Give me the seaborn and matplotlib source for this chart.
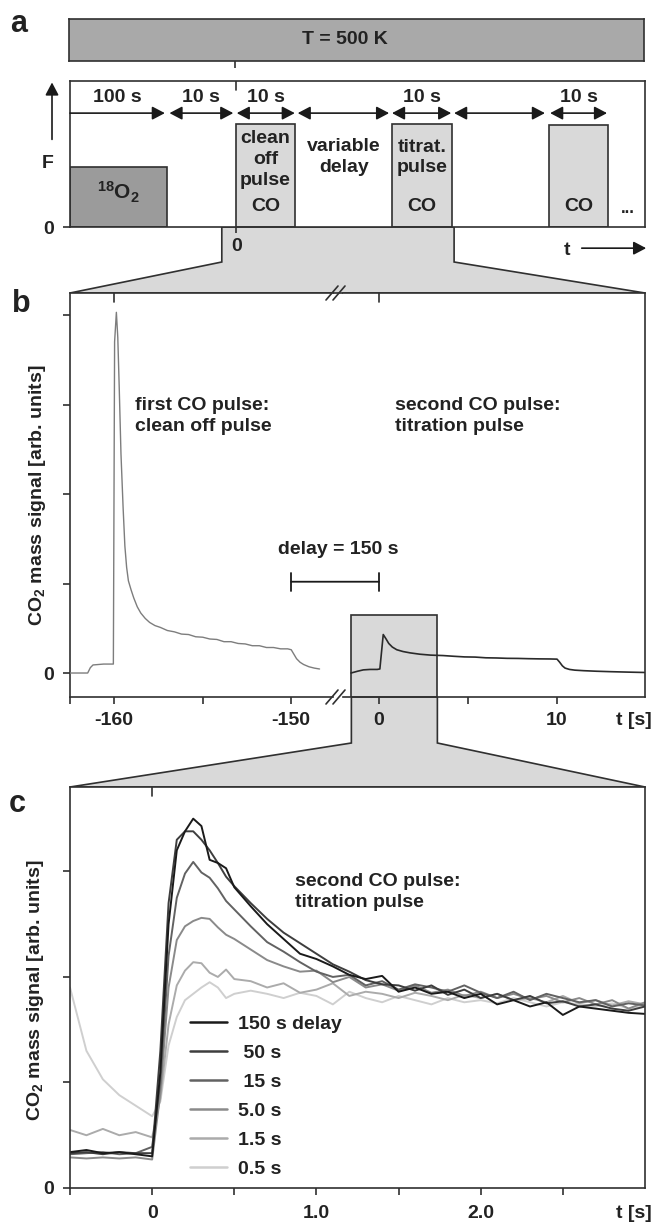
import matplotlib
matplotlib.use("Agg")
import matplotlib.pyplot as plt
import pandas as pd
import seaborn as sns
from matplotlib.patches import Polygon, Rectangle, ConnectionPatch

# ---------------- DATA ----------------
# panel a : schematic pulse sequence (schematic time units)
pulse_start = [0.0, 28.9, 56.0, 83.3]
pulse_width = [16.8, 10.2, 10.4, 10.3]
pulse_height = [0.41, 0.705, 0.705, 0.70]
pulse_color = ["#9b9b9b", "#d9d9d9", "#d9d9d9", "#d9d9d9"]
seg_start = [0.0, 17.3, 29.0, 39.6, 56.0, 66.8, 83.5]
seg_end = [16.5, 28.4, 39.1, 55.5, 66.3, 82.6, 93.4]
seg_labels = ["100 s", "10 s", "10 s", "", "10 s", "", "10 s"]
zoom_a = [26.4, 66.8]

# panel b : CO2 signal of clean-off pulse and titration pulse
first_t = [-162.5, -161.5, -161.35, -161.2, -160.6, -160.05, -159.98, -159.88, -159.8,
           -159.72, -159.62, -159.5, -159.4, -159.3, -159.2, -159.05, -158.9, -158.7,
           -158.5, -158.25, -158.0, -157.7, -157.4, -157.0, -156.6, -156.2, -155.8,
           -155.4, -155.0, -154.6, -154.2, -153.8, -153.4, -153.0, -152.6, -152.2,
           -151.8, -151.4, -151.0, -150.6, -150.2, -150.0, -149.85, -149.7, -149.5,
           -149.3, -149.0, -148.7, -148.4]
first_sig = [0.0, 0.0, 0.06, 0.09, 0.10, 0.10, 3.70, 4.03, 3.75,
             3.20, 2.45, 1.85, 1.42, 1.18, 1.03, 0.93, 0.84, 0.74,
             0.67, 0.61, 0.565, 0.53, 0.51, 0.475, 0.46, 0.435, 0.43,
             0.405, 0.40, 0.38, 0.375, 0.35, 0.35, 0.33, 0.325, 0.305,
             0.305, 0.285, 0.285, 0.27, 0.27, 0.26, 0.21, 0.16, 0.12,
             0.095, 0.07, 0.055, 0.045]
second_t = [-1.57, -1.2, -0.88, -0.5, -0.1, 0.05, 0.24, 0.4, 0.55, 0.75, 1.0, 1.35,
            1.75, 2.3, 2.9, 3.6, 4.2, 4.8, 5.4, 6.0, 6.6, 7.2, 7.8, 8.4, 9.0, 9.6,
            10.0, 10.15, 10.3, 10.45, 10.7, 11.0, 11.5, 12.2, 13.0, 14.0, 14.9]
second_sig = [0.0, 0.02, 0.035, 0.04, 0.04, 0.045, 0.43, 0.38, 0.33, 0.29, 0.26, 0.24,
              0.225, 0.21, 0.20, 0.195, 0.187, 0.18, 0.178, 0.17, 0.168, 0.164, 0.163,
              0.16, 0.158, 0.157, 0.155, 0.12, 0.08, 0.055, 0.04, 0.032, 0.026, 0.02,
              0.015, 0.01, 0.006]
zoom_b = [-1.55, 3.28, 0.65]
delay_bar = [-150.0, 0.0, 1.02]

# panel c : titration pulse for different delays
t_c = [-0.5, -0.4, -0.3, -0.2, -0.1, 0.0, 0.05, 0.1, 0.15, 0.2, 0.25, 0.3, 0.35, 0.4,
       0.45, 0.5, 0.6, 0.7, 0.8, 0.9, 1.0, 1.1, 1.2, 1.3, 1.4, 1.5, 1.6, 1.7, 1.8, 1.9,
       2.0, 2.1, 2.2, 2.3, 2.4, 2.5, 2.6, 2.7, 2.8, 2.9, 3.0]
delays = ["150 s delay", " 50 s", " 15 s", "5.0 s", "1.5 s", "0.5 s"]
sig_150 = [0.34, 0.36, 0.33, 0.34, 0.32, 0.30, 1.10, 2.50, 3.20, 3.38, 3.50, 3.43, 3.11, 3.08,
           3.03, 2.85, 2.67, 2.50, 2.36, 2.22, 2.17, 2.10, 2.02, 1.98, 2.01, 1.86, 1.90, 1.84,
           1.86, 1.80, 1.84, 1.74, 1.78, 1.72, 1.76, 1.64, 1.72, 1.70, 1.68, 1.66, 1.65]
sig_50 = [0.33, 0.34, 0.32, 0.34, 0.33, 0.33, 1.30, 2.70, 3.30, 3.38, 3.38, 3.30, 3.20, 3.08,
          2.95, 2.86, 2.70, 2.55, 2.42, 2.32, 2.22, 2.12, 2.05, 1.97, 1.93, 1.92, 1.87, 1.92,
          1.83, 1.88, 1.80, 1.84, 1.78, 1.82, 1.75, 1.77, 1.72, 1.74, 1.70, 1.68, 1.72]
sig_15 = [0.32, 0.33, 0.34, 0.32, 0.33, 0.39, 1.00, 2.20, 2.75, 2.98, 3.09, 2.99, 2.94, 2.84,
          2.72, 2.64, 2.48, 2.33, 2.24, 2.14, 2.05, 2.00, 2.02, 1.92, 1.96, 1.88, 1.93, 1.90,
          1.86, 1.92, 1.85, 1.80, 1.86, 1.78, 1.84, 1.80, 1.76, 1.78, 1.72, 1.75, 1.73]
sig_5 = [0.29, 0.28, 0.29, 0.28, 0.29, 0.27, 0.90, 1.90, 2.35, 2.48, 2.53, 2.56, 2.55, 2.47,
         2.40, 2.36, 2.26, 2.16, 2.10, 2.05, 2.06, 1.95, 2.00, 1.90, 1.93, 1.87, 1.92, 1.85,
         1.88, 1.82, 1.86, 1.80, 1.84, 1.79, 1.82, 1.76, 1.80, 1.74, 1.78, 1.70, 1.76]
sig_1_5 = [0.55, 0.50, 0.56, 0.50, 0.53, 0.48, 0.85, 1.55, 1.92, 2.06, 2.14, 2.13, 2.04, 2.00,
           2.07, 1.98, 1.96, 1.90, 1.94, 1.85, 1.88, 1.94, 1.82, 1.86, 1.84, 1.80, 1.85, 1.82,
           1.78, 1.83, 1.80, 1.84, 1.78, 1.80, 1.76, 1.82, 1.75, 1.78, 1.73, 1.77, 1.74]
sig_0_5 = [1.90, 1.30, 1.03, 0.88, 0.78, 0.68, 0.82, 1.35, 1.62, 1.78, 1.84, 1.90, 1.95, 1.90,
           1.80, 1.84, 1.87, 1.84, 1.80, 1.85, 1.82, 1.74, 1.86, 1.80, 1.76, 1.82, 1.78, 1.74,
           1.80, 1.76, 1.78, 1.75, 1.80, 1.76, 1.72, 1.76, 1.74, 1.72, 1.75, 1.70, 1.73]
delay_colors = ["#1a1a1a", "#3e3e3e", "#626262", "#8a8a8a", "#ababab", "#cfcfcf"]

# ---------------- STYLE ----------------
sns.set_theme(style="ticks")
DARK = "#303030"
TXT = "#222222"
FS = 14
plt.rcParams.update({
    "font.family": ["Liberation Sans", "DejaVu Sans"],
    "font.weight": "bold",
    "axes.labelweight": "bold",
    "mathtext.fontset": "custom",
    "mathtext.rm": "Liberation Sans:bold",
    "mathtext.it": "Liberation Sans:bold",
    "mathtext.bf": "Liberation Sans:bold",
    "text.color": TXT,
    "axes.edgecolor": DARK,
    "xtick.color": DARK,
    "ytick.color": DARK,
    "xtick.labelcolor": TXT,
    "ytick.labelcolor": TXT,
    "axes.linewidth": 1.2,
})

W, H = 651, 1226


def box(l, t, r, b):
    return [l / W, 1 - b / H, (r - l) / W, (b - t) / H]


def fx(x):
    return x / W


def fy(y):
    return 1 - y / H


fig = plt.figure(figsize=(W / 100, H / 100), dpi=100)
fig.patch.set_facecolor("white")
to_fig = fig.transFigure.inverted()

# ---------------- PANEL A ----------------
axT = fig.add_axes(box(69, 19, 644, 61))
axT.set_facecolor("#a9a9a9")
axT.set_xlim(0, 100)
axT.set_ylim(0, 1)
axT.set_yticks([])
axT.set_xticks([pulse_start[1]])
axT.set_xticklabels([])
axT.tick_params(axis="x", direction="out", length=5, width=1.2, color=DARK)
axT.text(0.48, 0.5, "T = 500 K", transform=axT.transAxes, ha="center", va="center",
         fontsize=FS)

axA = fig.add_axes(box(70, 81, 645, 227))
axA.set_xlim(0, 100)
axA.set_ylim(0, 1)
axA.bar(pulse_start, pulse_height, width=pulse_width, align="edge", color=pulse_color,
        edgecolor=DARK, linewidth=1.2, zorder=2)
for i, (s, e, lab) in enumerate(zip(seg_start, seg_end, seg_labels)):
    style = "-|>" if i == 0 else "<|-|>"
    axA.annotate("", xy=(e, 0.78), xytext=(s, 0.78),
                 arrowprops=dict(arrowstyle=style + ",head_length=0.38,head_width=0.2",
                                 color="#1a1a1a", lw=1.2, shrinkA=0, shrinkB=0,
                                 mutation_scale=20))
    if lab:
        axA.text((s + e) / 2, 0.89, lab, ha="center", va="center", fontsize=FS)
cx = [s + w / 2 for s, w in zip(pulse_start, pulse_width)]
axA.text(cx[0], 0.235, "$^{18}$O$_2$", ha="center", va="center", fontsize=FS + 1)
axA.text(cx[1], 0.462, "clean\noff\npulse", ha="center", va="center", fontsize=FS,
         linespacing=1.3)
axA.text(cx[1], 0.137, "CO", ha="center", va="center", fontsize=FS)
axA.text(47.6, 0.479, "variable\ndelay", ha="center", va="center", fontsize=FS,
         linespacing=1.3)
axA.text(cx[2], 0.476, "titrat.\npulse", ha="center", va="center", fontsize=FS,
         linespacing=1.3)
axA.text(cx[2], 0.137, "CO", ha="center", va="center", fontsize=FS)
axA.text(cx[3], 0.137, "CO", ha="center", va="center", fontsize=FS)
axA.text(97.0, 0.13, "...", ha="center", va="center", fontsize=FS - 2)
axA.set_yticks([0])
axA.set_yticklabels(["0"])
axA.set_xticks([pulse_start[1]])
axA.set_xticklabels(["0"])
axA.tick_params(axis="y", direction="out", length=5, width=1.2, pad=6.5, labelsize=FS)
axA.tick_params(axis="x", direction="out", length=4, width=1.2, pad=4, labelsize=FS)
axA.axvline(pulse_start[1], ymin=1 - 9 / 146, ymax=1, color=DARK, lw=1.2)
axA.text(-3.83, 0.438, "F", ha="center", va="center", fontsize=FS, clip_on=False)
axA.annotate("", xy=(-3.13, 0.99), xytext=(-3.13, 0.60), annotation_clip=False,
             arrowprops=dict(arrowstyle="-|>,head_length=0.38,head_width=0.2",
                             color="#1a1a1a", lw=1.2, shrinkA=0, shrinkB=0,
                             mutation_scale=20))
axA.text(86.4, -0.158, "t", ha="center", va="center", fontsize=FS, clip_on=False)
axA.annotate("", xy=(100.2, -0.145), xytext=(89.0, -0.145), annotation_clip=False,
             arrowprops=dict(arrowstyle="-|>,head_length=0.38,head_width=0.2",
                             color="#1a1a1a", lw=1.2, shrinkA=0, shrinkB=0,
                             mutation_scale=20))

# ---------------- PANEL B ----------------
ylimB = (-0.268, 4.246)
axB1 = fig.add_axes(box(70, 293, 333, 697))
axB2 = fig.add_axes(box(343, 293, 645, 697))
sns.lineplot(x=first_t, y=first_sig, ax=axB1, color="#7d7d7d", lw=1.0,
             estimator=None, errorbar=None, zorder=3)
sns.lineplot(x=second_t, y=second_sig, ax=axB2, color="#2a2a2a", lw=1.2,
             estimator=None, errorbar=None, zorder=3)
axB1.set_xlim(-162.5, -147.64)
axB2.set_xlim(-2.02, 14.94)
for ax in (axB1, axB2):
    ax.set_ylim(*ylimB)
    ax.set_ylabel("")
    ax.set_xlabel("")
axB1.spines["right"].set_visible(False)
axB2.spines["left"].set_visible(False)
axB1.set_yticks([0, 1, 2, 3, 4])
axB1.set_yticklabels(["0", "", "", "", ""])
axB2.set_yticks([])
axB1.set_xticks([-162.5, -160, -155, -150])
axB1.set_xticklabels(["", "-160", "", "-150"])
axB2.set_xticks([0, 5, 10])
axB2.set_xticklabels(["0", "", "10"])
for ax in (axB1, axB2):
    ax.tick_params(axis="both", direction="out", length=5, width=1.2, labelsize=FS)
    ax.tick_params(axis="x", pad=6)
    ax.tick_params(axis="y", pad=6.5)
axB1.axvline(-160, ymin=1 - 9 / 404, ymax=1, color=DARK, lw=1.2)
axB2.axvline(0, ymin=1 - 9 / 404, ymax=1, color=DARK, lw=1.2)
axB2.annotate("t [s]", xy=(1, 0), xycoords="axes fraction", xytext=(4.5, -11),
              textcoords="offset points", ha="right", va="top", fontsize=FS)
axB2.add_patch(Rectangle((zoom_b[0], ylimB[0]), zoom_b[1] - zoom_b[0],
                         zoom_b[2] - ylimB[0], facecolor="#d9d9d9", edgecolor=DARK,
                         lw=1.2, zorder=1))

# break marks
for yb in (293, 697):
    for x0 in (326, 333):
        fig.add_artist(plt.Line2D([fx(x0), fx(x0 + 12)], [fy(yb + 7), fy(yb - 7)],
                                  color=DARK, lw=1.2))

fig.text(fx(135), fy(397), "first CO pulse:\nclean off pulse", ha="left", va="top",
         fontsize=FS, linespacing=1.27)
fig.text(fx(395), fy(397), "second CO pulse:\ntitration pulse", ha="left", va="top",
         fontsize=FS, linespacing=1.27)
fig.text(fx(338), fy(550), "delay = 150 s", ha="center", va="center", fontsize=FS)
fig.add_artist(ConnectionPatch(xyA=(delay_bar[0], delay_bar[2]), coordsA=axB1.transData,
                               xyB=(delay_bar[1], delay_bar[2]), coordsB=axB2.transData,
                               arrowstyle="|-|,widthA=0.32,widthB=0.32", mutation_scale=20,
                               color="#1a1a1a", lw=1.3))
fig.text(fx(38), fy(495), "CO$_2$ mass signal [arb. units]", rotation=90, ha="center",
         va="center", fontsize=FS)

# ---------------- PANEL C ----------------
axC = fig.add_axes(box(70, 787, 645, 1188))
rows = []
for name, sig in zip(delays, [sig_150, sig_50, sig_15, sig_5, sig_1_5, sig_0_5]):
    for t, v in zip(t_c, sig):
        rows.append({"t": t, "signal": v, "delay": name})
dfc = pd.DataFrame(rows)
sns.lineplot(data=dfc, x="t", y="signal", hue="delay", hue_order=delays[::-1],
             palette=dict(zip(delays, delay_colors)), estimator=None, errorbar=None,
             lw=1.4, ax=axC, legend=False)
line_handles = list(axC.get_lines())[::-1]
axC.set_xlim(-0.5, 3.0)
axC.set_ylim(0, 3.80)
axC.set_xlabel("")
axC.set_ylabel("")
axC.set_yticks([0, 1, 2, 3])
axC.set_yticklabels(["0", "", "", ""])
axC.set_xticks([-0.5, 0, 0.5, 1.0, 1.5, 2.0, 2.5])
axC.set_xticklabels(["", "0", "", "1.0", "", "2.0", ""])
axC.tick_params(axis="both", direction="out", length=5, width=1.2, labelsize=FS)
axC.tick_params(axis="x", pad=7.5)
axC.tick_params(axis="y", pad=6.5)
axC.axvline(0, ymin=1 - 9 / 401, ymax=1, color=DARK, lw=1.2)
axC.annotate("t [s]", xy=(1, 0), xycoords="axes fraction", xytext=(4.5, -12.5),
             textcoords="offset points", ha="right", va="top", fontsize=FS)
leg = axC.legend(line_handles, delays, loc="upper left", bbox_to_anchor=(0.2087, 0.4314),
                 frameon=False, borderpad=0, borderaxespad=0, handlelength=1.9,
                 handletextpad=0.55, labelspacing=0.59, fontsize=FS)
for h in leg.get_lines():
    h.set_linewidth(1.8)
fig.text(fx(295), fy(873), "second CO pulse:\ntitration pulse", ha="left", va="top",
         fontsize=FS, linespacing=1.27)
fig.text(fx(36), fy(990), "CO$_2$ mass signal [arb. units]", rotation=90, ha="center",
         va="center", fontsize=FS)

# ---------------- CONNECTORS ----------------
def fig_pt(trans, xy):
    return to_fig.transform(trans.transform(xy))

drop_a = 35 / H
pa0 = fig_pt(axA.transData, (zoom_a[0], 0))
pa1 = fig_pt(axA.transData, (zoom_a[1], 0))
pb_l = fig_pt(axB1.transAxes, (0, 1))
pb_r = fig_pt(axB2.transAxes, (1, 1))
fig.add_artist(Polygon([pa0, (pa0[0], pa0[1] - drop_a), pb_l, pb_r,
                        (pa1[0], pa1[1] - drop_a), pa1],
                       closed=True, facecolor="#d9d9d9", edgecolor=DARK, lw=1.2,
                       zorder=-1))
drop_b = 46 / H
pc0 = fig_pt(axB2.transData, (zoom_b[0], ylimB[0]))
pc1 = fig_pt(axB2.transData, (zoom_b[1], ylimB[0]))
pcl = fig_pt(axC.transAxes, (0, 1))
pcr = fig_pt(axC.transAxes, (1, 1))
fig.add_artist(Polygon([pc0, (pc0[0], pc0[1] - drop_b), pcl, pcr,
                        (pc1[0], pc1[1] - drop_b), pc1],
                       closed=True, facecolor="#d9d9d9", edgecolor=DARK, lw=1.2,
                       zorder=-1))

# panel letters
fig.text(fx(10), fy(32), "a", ha="left", va="baseline", fontsize=22)
fig.text(fx(12), fy(312), "b", ha="left", va="baseline", fontsize=22)
fig.text(fx(9), fy(812), "c", ha="left", va="baseline", fontsize=22)

fig.savefig("out.png", dpi=100, facecolor="white")
